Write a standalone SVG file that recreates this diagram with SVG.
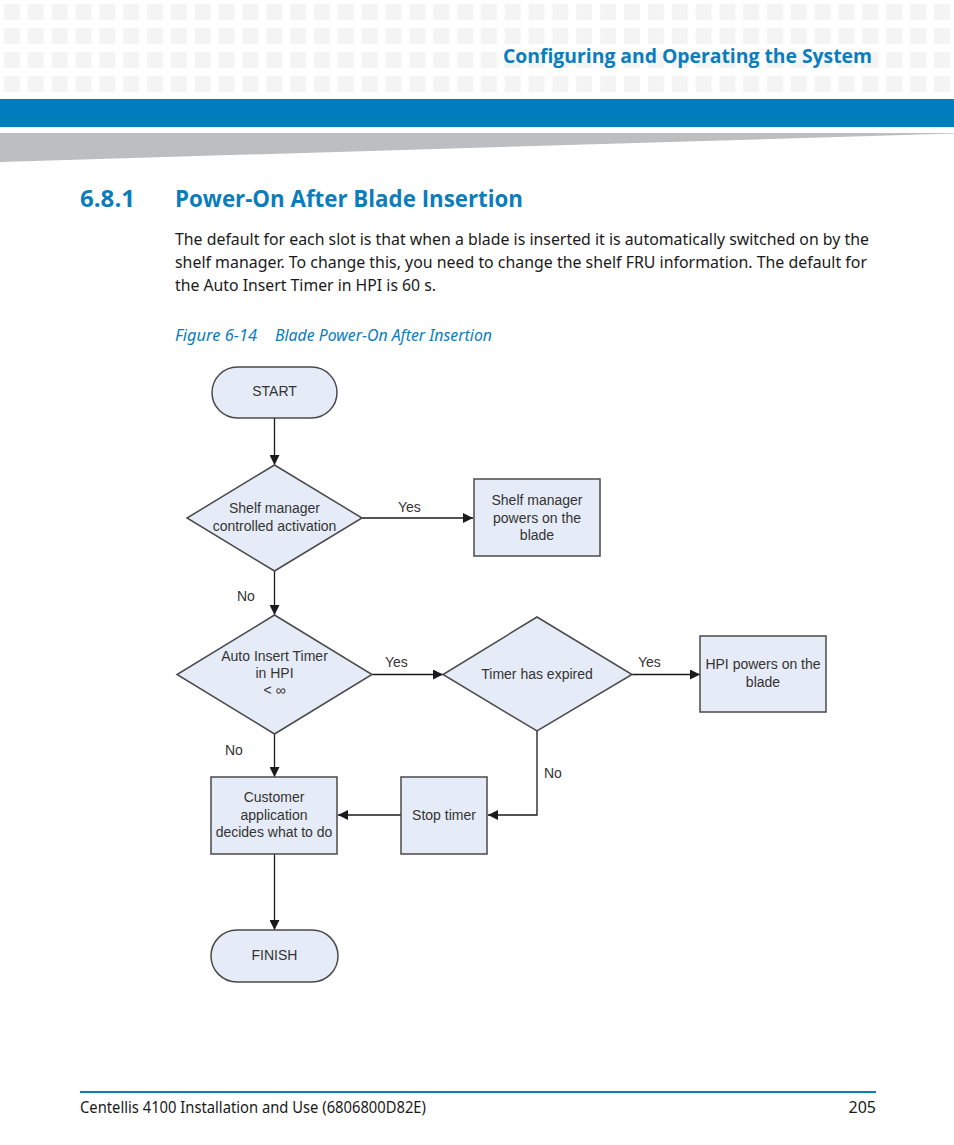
<svg xmlns="http://www.w3.org/2000/svg" width="954" height="1145" viewBox="0 0 954 1145">
<style>
.node{fill:#e6ecf7;stroke:#4a4a4a;stroke-width:1.5}
.ft{font-family:"Liberation Sans",Arial,sans-serif;font-size:14px;fill:#333;text-anchor:middle}
.lbl{font-family:"Liberation Sans",Arial,sans-serif;font-size:14px;fill:#333}
.conn{stroke:#1a1a1a;stroke-width:1.3;fill:none;marker-end:url(#arr)}
.blue{fill:#0a7dbd}
.body{font-family:"Noto Sans","Liberation Sans",sans-serif;font-size:16px;fill:#1a1a1a}
</style>
<defs>
<pattern id="grid" patternUnits="userSpaceOnUse" x="4" y="4" width="23.846" height="24">
<rect x="0" y="0" width="16" height="16" fill="#f4f4f4"/>
</pattern>
<marker id="arr" viewBox="0 0 10 10" refX="10" refY="5" markerWidth="10" markerHeight="10" markerUnits="userSpaceOnUse" orient="auto">
<path d="M0,0 L10,5 L0,10 z" fill="#1a1a1a"/>
</marker>
</defs>
<rect width="954" height="1145" fill="#fff"/>
<g id="header">
<rect x="0" y="0" width="954" height="94" fill="url(#grid)"/>
<rect x="0" y="99" width="954" height="28" fill="#007dbd"/>
<polygon points="0,133 954,133 954,133.5 0,162" fill="#bdbec0"/>
<text x="503" y="63" font-family="Open Sans,Liberation Sans,sans-serif" font-weight="bold" font-size="20" fill="#0a7dbd" textLength="369" lengthAdjust="spacingAndGlyphs">Configuring and Operating the System</text>
</g>
<g id="heading">
<text x="80" y="207" font-family="Open Sans,Liberation Sans,sans-serif" font-weight="bold" font-size="24" fill="#0a7dbd" textLength="55" lengthAdjust="spacingAndGlyphs">6.8.1</text>
<text x="175" y="207" font-family="Open Sans,Liberation Sans,sans-serif" font-weight="bold" font-size="24" fill="#0a7dbd" textLength="348" lengthAdjust="spacingAndGlyphs">Power-On After Blade Insertion</text>
</g>
<g id="bodytext">
<text class="body" x="175" y="245" textLength="694" lengthAdjust="spacingAndGlyphs">The default for each slot is that when a blade is inserted it is automatically switched on by the</text>
<text class="body" x="175" y="268" textLength="692" lengthAdjust="spacingAndGlyphs">shelf manager. To change this, you need to change the shelf FRU information. The default for</text>
<text class="body" x="175" y="291" textLength="261" lengthAdjust="spacingAndGlyphs">the Auto Insert Timer in HPI is 60 s.</text>
</g>
<g id="caption">
<text x="175" y="341" font-family="Noto Sans,Liberation Sans,sans-serif" font-style="italic" font-size="16" fill="#0a7dbd" textLength="82" lengthAdjust="spacingAndGlyphs">Figure 6-14</text>
<text x="275" y="341" font-family="Noto Sans,Liberation Sans,sans-serif" font-style="italic" font-size="16" fill="#0a7dbd" textLength="217" lengthAdjust="spacingAndGlyphs">Blade Power-On After Insertion</text>
</g>
<g id="connectors">
<line class="conn" x1="274.5" y1="418" x2="274.5" y2="465"/>
<line class="conn" x1="362" y1="518" x2="473" y2="518"/>
<line class="conn" x1="274.5" y1="571" x2="274.5" y2="615"/>
<line class="conn" x1="372" y1="674.5" x2="443" y2="674.5"/>
<line class="conn" x1="632" y1="674.5" x2="700" y2="674.5"/>
<polyline class="conn" points="537,731 537,815 488,815"/>
<line class="conn" x1="401" y1="815" x2="338" y2="815"/>
<line class="conn" x1="274.5" y1="734" x2="274.5" y2="777"/>
<line class="conn" x1="274.5" y1="854" x2="274.5" y2="930"/>
<text class="lbl" x="398" y="512">Yes</text>
<text class="lbl" x="237" y="601">No</text>
<text class="lbl" x="385" y="667">Yes</text>
<text class="lbl" x="638" y="667">Yes</text>
<text class="lbl" x="225" y="755">No</text>
<text class="lbl" x="544" y="778">No</text>
</g>
<g id="start">
<rect class="node" x="212" y="367" width="125" height="51" rx="25.5"/>
<text class="ft" x="274.5" y="396">START</text>
</g>
<g id="dec-shelf">
<polygon class="node" points="274.5,465 362,518 274.5,571 187,518"/>
<text class="ft" x="274.5" y="513">Shelf manager</text>
<text class="ft" x="274.5" y="531">controlled activation</text>
</g>
<g id="shelf-powers">
<rect class="node" x="474" y="479" width="126" height="77"/>
<text class="ft" x="537" y="505">Shelf manager</text>
<text class="ft" x="537" y="523">powers on the</text>
<text class="ft" x="537" y="540">blade</text>
</g>
<g id="dec-timer">
<polygon class="node" points="274.5,615 372,674.5 274.5,734 177,674.5"/>
<text class="ft" x="274.5" y="661">Auto Insert Timer</text>
<text class="ft" x="274.5" y="678">in HPI</text>
<text class="ft" x="274.5" y="695" font-size="11">&lt; ∞</text>
</g>
<g id="dec-expired">
<polygon class="node" points="537,617 632,674.5 537,731 443,674.5"/>
<text class="ft" x="537" y="679">Timer has expired</text>
</g>
<g id="hpi-powers">
<rect class="node" x="700" y="636" width="126" height="76"/>
<text class="ft" x="763" y="669">HPI powers on the</text>
<text class="ft" x="763" y="687">blade</text>
</g>
<g id="stop-timer">
<rect class="node" x="401" y="777" width="86" height="77"/>
<text class="ft" x="444" y="820">Stop timer</text>
</g>
<g id="customer">
<rect class="node" x="211" y="777" width="126" height="77"/>
<text class="ft" x="274" y="802">Customer</text>
<text class="ft" x="274" y="820">application</text>
<text class="ft" x="274" y="837">decides what to do</text>
</g>
<g id="finish">
<rect class="node" x="211" y="930" width="127" height="52" rx="26"/>
<text class="ft" x="274.5" y="960">FINISH</text>
</g>
<g id="footer">
<rect x="80" y="1091" width="796" height="2" fill="#0a7dbd"/>
<text x="80" y="1113" font-family="Noto Sans,Liberation Sans,sans-serif" font-size="16" fill="#1a1a1a" textLength="346" lengthAdjust="spacingAndGlyphs">Centellis 4100 Installation and Use (6806800D82E)</text>
<text x="876" y="1113" font-family="Noto Sans,Liberation Sans,sans-serif" font-size="16" fill="#1a1a1a" text-anchor="end">205</text>
</g>
</svg>
